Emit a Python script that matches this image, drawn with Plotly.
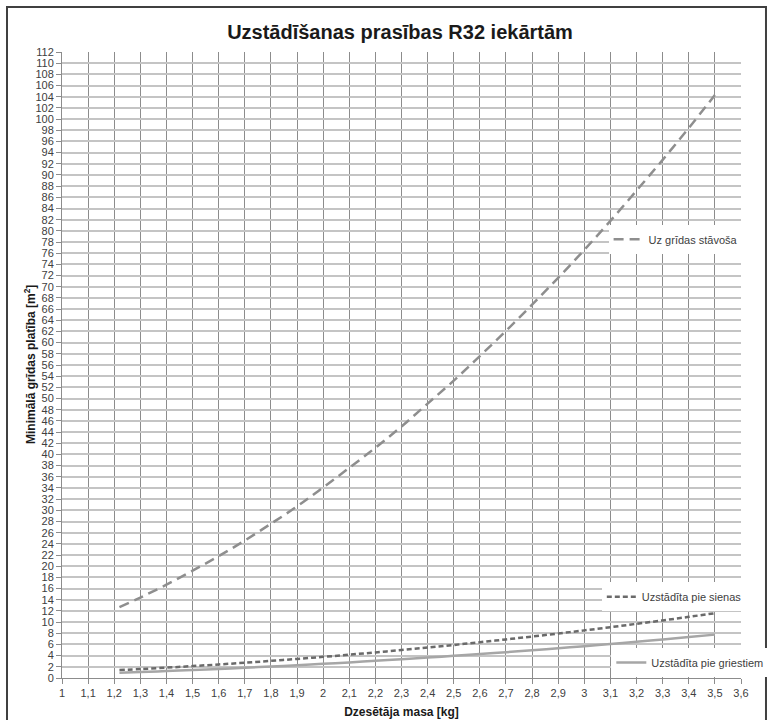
import plotly.graph_objects as go

# Data
mass = [1.22, 1.3, 1.4, 1.5, 1.6, 1.7, 1.8, 1.9, 2.0, 2.1, 2.2, 2.3, 2.4,
        2.5, 2.6, 2.7, 2.8, 2.9, 3.0, 3.1, 3.2, 3.3, 3.4, 3.5]
floor_area = [12.7, 14.4, 16.7, 19.2, 21.8, 24.6, 27.6, 30.7, 34.1, 37.6, 41.2,
              45.0, 49.1, 53.2, 57.6, 62.1, 66.8, 71.6, 76.6, 81.8, 87.2, 92.7,
              98.4, 104.3]
wall_area = [1.41, 1.60, 1.85, 2.13, 2.42, 2.73, 3.07, 3.42, 3.78, 4.17, 4.58,
             5.00, 5.45, 5.91, 6.40, 6.90, 7.42, 7.96, 8.52, 9.09, 9.69, 10.30,
             10.94, 11.59]
ceiling_area = [0.94, 1.07, 1.24, 1.43, 1.62, 1.83, 2.05, 2.29, 2.53, 2.79, 3.07,
                3.35, 3.65, 3.96, 4.28, 4.62, 4.97, 5.33, 5.70, 6.09, 6.49, 6.90,
                7.32, 7.76]

x_tickvals = [1.0, 1.1, 1.2, 1.3, 1.4, 1.5, 1.6, 1.7, 1.8, 1.9, 2.0, 2.1, 2.2,
              2.3, 2.4, 2.5, 2.6, 2.7, 2.8, 2.9, 3.0, 3.1, 3.2, 3.3, 3.4, 3.5, 3.6]
x_ticktext = ["1", "1,1", "1,2", "1,3", "1,4", "1,5", "1,6", "1,7", "1,8", "1,9",
              "2", "2,1", "2,2", "2,3", "2,4", "2,5", "2,6", "2,7", "2,8", "2,9",
              "3", "3,1", "3,2", "3,3", "3,4", "3,5", "3,6"]
y_tickvals = list(range(0, 113, 2))

title_text = "Uzstādīšanas prasības R32 iekārtām"
x_title = "Dzesētāja masa [kg]"
y_title = "Minimālā grīdas platība [m<sup>2</sup>]"
names = ["Uz grīdas stāvoša", "Uzstādīta pie sienas", "Uzstādīta pie griestiem"]

tick_font = dict(family="Liberation Sans Narrow, Arial Narrow, Liberation Sans, sans-serif",
                 size=11, color="#404040")
axis_title_font = dict(family="Liberation Sans Narrow, Arial Narrow, Liberation Sans, sans-serif",
                       size=12, color="#1a1a1a", weight="bold")

fig = go.Figure()
fig.add_trace(go.Scatter(x=mass, y=floor_area, mode="lines", name=names[0],
                         line=dict(color="#8e8e8e", width=2.5, dash="10px,6px", shape="spline"),
                         legend="legend"))
fig.add_trace(go.Scatter(x=mass, y=wall_area, mode="lines", name=names[1],
                         line=dict(color="#6a6a6a", width=2.5, dash="5px,3px", shape="spline"),
                         legend="legend2"))
fig.add_trace(go.Scatter(x=mass, y=ceiling_area, mode="lines", name=names[2],
                         line=dict(color="#a6a6a6", width=2.5, shape="spline"),
                         legend="legend3"))

legend_font = dict(family="Liberation Sans, Arial, sans-serif", size=11, color="#404040")
common_leg = dict(bgcolor="white", font=legend_font, xanchor="left", yanchor="top",
                  borderwidth=0, itemwidth=30, tracegroupgap=0)

fig.update_layout(
    width=771, height=720,
    margin=dict(l=62, r=30, t=52, b=42, autoexpand=False),
    paper_bgcolor="white", plot_bgcolor="white",
    title=dict(text=title_text, x=400 / 771, xref="container", xanchor="center",
               y=1 - 32 / 720, yref="container", yanchor="middle",
               font=dict(family="Liberation Sans, Arial, sans-serif", size=20,
                         color="#1a1a1a", weight="bold")),
    xaxis=dict(range=[1, 3.6], tickvals=x_tickvals, ticktext=x_ticktext,
               automargin=False,
               showgrid=True, gridcolor="#8c8c8c", gridwidth=1,
               showline=True, linecolor="#8c8c8c", linewidth=1,
               ticks="outside", ticklen=5, tickcolor="#8c8c8c",
               tickfont=tick_font, zeroline=False,
               title=dict(text=x_title, standoff=9, font=axis_title_font)),
    yaxis=dict(range=[0, 112], tickvals=y_tickvals,
               automargin=False,
               showgrid=True, gridcolor="#c4c4c4", gridwidth=2,
               showline=True, linecolor="#8c8c8c", linewidth=1,
               ticks="outside", ticklen=5, tickcolor="#8c8c8c",
               tickfont=tick_font, zeroline=False),
    legend=dict(x=0.805, y=0.724, **common_leg),
    legend2=dict(x=0.795, y=0.153, **common_leg),
    legend3=dict(x=0.809, y=0.048, **common_leg),
    showlegend=True,
)

fig.add_annotation(text=y_title, xref="paper", yref="paper",
                   x=(30 - 62) / 679, y=0.5, xanchor="center", yanchor="middle",
                   textangle=-90, showarrow=False, font=axis_title_font)

fig.add_shape(type="rect", xref="paper", yref="paper",
              x0=-0.081, x1=1.0368, y0=-0.075, y1=1.0719,
              line=dict(color="#404040", width=2), fillcolor="rgba(0,0,0,0)",
              layer="above")

fig.write_html("out.html", config={"displayModeBar": False},
               post_script="document.body.style.margin='0';document.body.style.overflow='hidden';")
